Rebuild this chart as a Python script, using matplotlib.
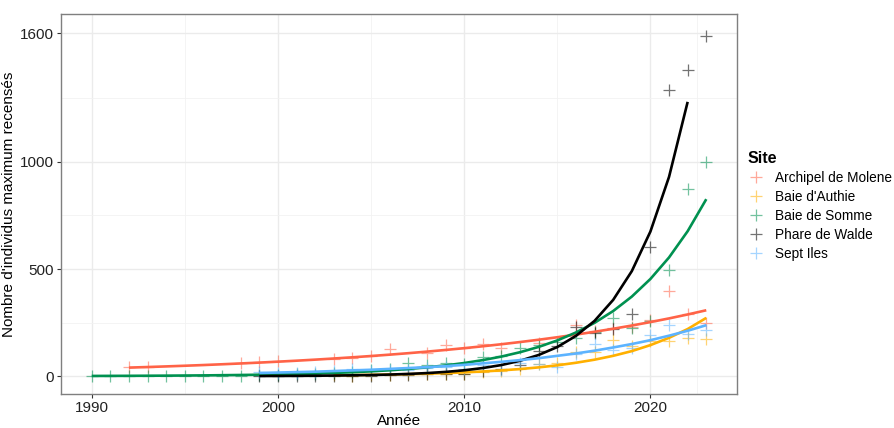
import numpy as np
import matplotlib
matplotlib.use("Agg")
from matplotlib import pyplot as plt
from matplotlib.lines import Line2D

plt.rcParams['font.family'] = ['Liberation Sans', 'DejaVu Sans']

# Sites et couleurs
sites = ["Archipel de Molene", "Baie d'Authie", "Baie de Somme", "Phare de Walde", "Sept Iles"]
colors = ["#FF6347", "#FFB000", "#009150", "#000000", "#5CB3FF"]

# Observations (nombre max d'individus par an)
molene_years = [1992, 1993, 1998, 1999, 2000, 2003, 2004, 2005, 2006, 2008, 2009, 2010, 2011,
                2012, 2014, 2016, 2017, 2018, 2019, 2020, 2021, 2022, 2023]
molene_vals = [45, 45, 63, 68, 71, 80, 84, 94, 125, 107, 145, 130, 148,
               130, 153, 238, 212, 223, 230, 261, 396, 289, 250]

authie_years = list(range(2003, 2024))
authie_vals = [5, 3, 5, 5, 8, 10, 8, 12, 20, 25, 35, 55, 60, 115, 115, 168, 140, 165, 162, 180, 175]

somme_years = list(range(1990, 2024))
somme_vals = [0, 0, 0, 0, 0, 0, 2, 2, 3, 5, 5, 8, 10, 15, 20, 28, 35, 60, 50, 62, 55, 88,
              95, 130, 145, 160, 180, 205, 270, 225, 258, 495, 875, 1000]

walde_years = list(range(1999, 2024))
walde_vals = [0, 0, 0, 0, 0, 2, 3, 5, 5, 8, 12, 12, 25, 35, 50, 118, 140, 228, 200, 220,
              288, 605, 1335, 1430, 1588]

septiles_years = list(range(1999, 2024))
septiles_vals = [20, 15, 15, 18, 22, 35, 25, 30, 30, 40, 42, 35, 50, 28, 60, 55, 42, 105,
                 150, 120, 130, 190, 240, 195, 215]

# Courbes ajustees
molene_fit_years = list(range(1992, 2024))
molene_fit = [40, 42.7, 45.6, 48.7, 52.0, 55.6, 59.4, 63.4, 67.7, 72.3, 77.2, 82.5, 88.1, 94.1,
              100.5, 107.3, 114.6, 122.4, 130.7, 139.6, 149.1, 159.3, 170.1, 181.7, 194.0,
              207.2, 221.3, 236.4, 252.5, 269.6, 288.0, 307.6]

authie_fit_years = list(range(2003, 2024))
authie_fit = [4.1, 5.0, 6.2, 7.7, 9.4, 11.6, 14.4, 17.7, 21.9, 27.0, 33.3, 41.1, 50.7, 62.6,
              77, 95, 117, 145, 179, 220, 272]

somme_fit_years = list(range(1990, 2024))
somme_fit = [1.1, 1.4, 1.7, 2.1, 2.5, 3.1, 3.7, 4.6, 5.6, 6.8, 8.3, 10.2, 12.4, 15.2, 18.5,
             22.6, 27.6, 33.7, 41.2, 50.3, 61.4, 75.0, 91.6, 111.9, 136.6, 166.9, 203.8,
             248.9, 304.0, 371.3, 453.6, 554.0, 676.6, 826]

walde_fit_years = list(range(1999, 2023))
walde_fit = [0.8, 1.1, 1.5, 2.1, 2.9, 4.0, 5.5, 7.6, 10.5, 14.5, 20, 27.5, 38, 52, 72, 99,
             136, 188, 258, 356, 490, 675, 930, 1280]

septiles_fit_years = list(range(1999, 2024))
septiles_fit = [15, 17, 19, 21, 24, 27, 30, 34, 38, 42, 47, 53, 60, 67, 75, 84, 95, 106, 119,
                134, 150, 168, 189, 212, 238]

obs = [(molene_years, molene_vals), (authie_years, authie_vals), (somme_years, somme_vals),
       (walde_years, walde_vals), (septiles_years, septiles_vals)]
fits = [(molene_fit_years, molene_fit), (authie_fit_years, authie_fit), (somme_fit_years, somme_fit),
        (walde_fit_years, walde_fit), (septiles_fit_years, septiles_fit)]

x_breaks = [1990, 2000, 2010, 2020]
x_minor = [1995, 2005, 2015, 2022.5]
y_breaks = [0, 500, 1000, 1600]
y_minor = [250, 750, 1300]

fig = plt.figure(figsize=(8.94, 4.28), dpi=100)
ax = fig.add_axes([0.0682, 0.0795, 0.7562, 0.8878])

for v in x_minor:
    ax.axvline(v, color="#F2F2F2", lw=0.6, zorder=0)
for v in x_breaks:
    ax.axvline(v, color="#EBEBEB", lw=1.0, zorder=0)
for v in y_minor:
    ax.axhline(v, color="#F2F2F2", lw=0.6, zorder=0)
for v in y_breaks:
    ax.axhline(v, color="#EBEBEB", lw=1.0, zorder=0)

for (xs, ys), c in zip(obs, colors):
    ax.plot(xs, ys, ls="none", marker="+", ms=8.5, mew=0.9, color=c, alpha=0.55, zorder=2)
for (xs, ys), c in zip(fits, colors):
    ax.plot(xs, ys, color=c, lw=1.9, zorder=3, solid_capstyle="butt")

ax.set_xlim(1988.35, 2024.65)
ax.set_ylim(-83, 1690)
ax.set_xticks(x_breaks)
ax.set_yticks(y_breaks)
ax.tick_params(axis="both", length=3, width=0.8, color="#333333", labelsize=11,
               labelcolor="#222222", pad=2)
for s in ax.spines.values():
    s.set_color("#7F7F7F")
    s.set_linewidth(1.0)

ax.set_xlabel("Année", fontsize=11, labelpad=-1)
ax.set_ylabel("Nombre d'individus maximum recensés", fontsize=11, labelpad=3)

handles = [Line2D([], [], ls="none", marker="+", ms=8.5, mew=0.9, color=c, alpha=0.55) for c in colors]
leg = fig.legend(handles, sites, loc="upper left", bbox_to_anchor=(0.83, 0.66), frameon=False,
                 title="Site", fontsize=9.8, handlelength=1.2, handletextpad=0.85,
                 labelspacing=0.37, borderaxespad=0)
leg.get_title().set_fontweight("bold")
leg.get_title().set_fontsize(11.5)
leg._legend_box.align = "left"

fig.savefig("out.png", dpi=100)
